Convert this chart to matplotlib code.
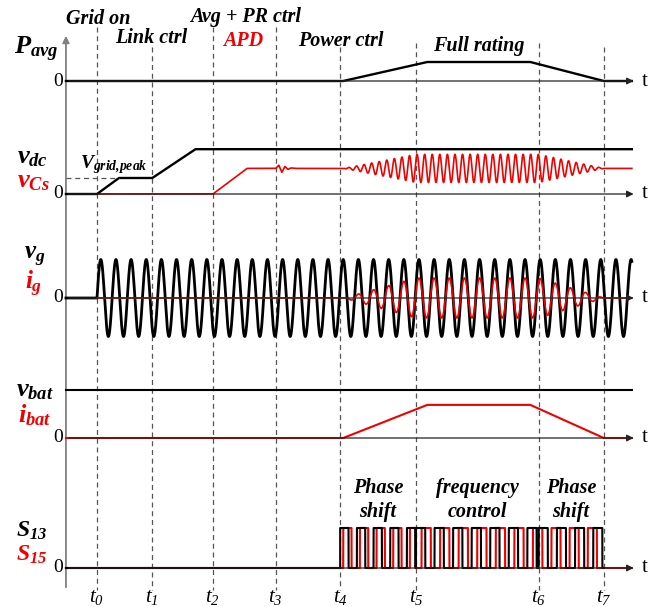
import matplotlib
matplotlib.use('Agg')
import matplotlib.pyplot as plt
import numpy as np

plt.rcParams['mathtext.fontset'] = 'custom'
plt.rcParams['mathtext.it'] = 'Liberation Serif:italic:bold'
plt.rcParams['mathtext.rm'] = 'Liberation Serif:italic:bold'
plt.rcParams['mathtext.sf'] = 'Liberation Serif:italic'

# time base (ms), grid period 20 ms
t_marks = [0, 73, 153, 236, 321, 421, 583, 669]
t_names = ['t_0', 't_1', 't_2', 't_3', 't_4', 't_5', 't_6', 't_7']
t_start, t_end = -41, 706
grid_period = 20.0

# average power (p.u.)
p_t = [t_start, 325, 436, 572, 669, t_end]
p_val = [0, 0, 1.0, 1.0, 0, 0]

# dc link / APD capacitor voltages (p.u. of grid peak)
vdc_t = [t_start, 0, 29, 73, 130, t_end]
vdc_val = [0, 0, 1.0, 1.0, 2.8, 2.8]
vcs_t = [0, 153, 198, t_end]
vcs_val = [0, 0, 1.6, 1.6]
vcs_bump_t = [236, 240, 244, 248, 252, 256, 262]
vcs_bump = [0, 0.2, -0.25, 0.12, -0.06, 0.03, 0]
vcs_ripple_amp = 0.88

# envelope of the power transfer (ig, vCs ripple)
env_t = [326, 421, 583, 669]
env_val = [0, 1, 1, 0]
ig_amp = 0.52

# battery
vbat = 1.0
ibat_t = [t_start, 325, 436, 572, 669, t_end]
ibat_val = [0, 0, 0.69, 0.69, 0, 0]

# switching: segments t4-t5, t5-t6, t6-t7
sw_bounds = [321, 421, 583, 669]
sw_period = [22.0, 24.5, 24.0]
sw_shift = [0.18, 0.3, -0.3]
sw_duty = 0.5

W, H = 663, 607
ms_per_px = 1.32
x0_px = 97
x_lo = -x0_px * ms_per_px
x_hi = (W - x0_px) * ms_per_px

RED = '#f00000'
fig = plt.figure(figsize=(W / 100, H / 100), dpi=100)

base = fig.add_axes([0, 0, 1, 1])
base.set_xlim(x_lo, x_hi)
base.set_ylim(H, 0)
base.axis('off')

dash_top = [27, 47, 27, 27, 47, 43, 43, 47]
base.vlines(t_marks, dash_top, 590, colors='#555555', lw=0.9, linestyles=(0, (4, 3)))
base.annotate('', xy=(t_start, 33), xytext=(t_start, 590),
              arrowprops=dict(arrowstyle='-|>', color='#808080', lw=1.3, mutation_scale=10))
for tm, nm in zip(t_marks, t_names):
    base.text(tm, 597, r'$\mathsf{' + nm + '}$', fontsize=15, ha='center', va='center')


def panel(top, bottom, zero, scale):
    ax = fig.add_axes([0, 1 - bottom / H, 1, (bottom - top) / H])
    ax.set_xlim(x_lo, x_hi)
    ax.set_ylim(-(bottom - zero) / scale, (zero - top) / scale)
    ax.axis('off')
    ax.annotate('', xy=(712, 0), xytext=(t_start, 0),
                arrowprops=dict(arrowstyle='-|>', color='#222222', lw=0.9, mutation_scale=10))
    ax.text(719, 0, 't', fontsize=15, family='Liberation Serif', va='center', ha='left')
    ax.text(t_start - 4, 0, '0', fontsize=14, family='Liberation Serif', va='center', ha='right')
    return ax


def ftext(x, y, s, size, color='k', **kw):
    fig.text(x / W, 1 - y / H, s, fontsize=size, color=color, family='Liberation Serif',
             weight='bold', style='italic', va='center', **kw)


# P_avg
ax1 = panel(33, 112, 81, 19)
ax1.plot(p_t, p_val, color='k', lw=1.7)

# v_dc, v_Cs
ax2 = panel(112, 215, 194, 16)
t = np.linspace(0, t_end, 8000)
env = np.interp(t, env_t, env_val)
vcs = np.interp(t, vcs_t, vcs_val) + np.interp(t, vcs_bump_t, vcs_bump, left=0, right=0)
vcs = vcs + vcs_ripple_amp * env * np.sin(2 * np.pi * t / (grid_period / 2))
ax2.plot(t, vcs, color=RED, lw=1.2)
ax2.plot(vdc_t, vdc_val, color='k', lw=1.7)
ax2.plot([t_start, 29], [1.0, 1.0], color='#555555', lw=0.9, ls=(0, (4, 3)))

# v_g, i_g
ax3 = panel(215, 350, 298, 38.5)
vg = np.sin(2 * np.pi * t / grid_period)
ig = ig_amp * env * vg
ax3.plot(np.r_[t_start, t], np.r_[0, vg], color='k', lw=2.0)
ax3.plot(t, ig, color=RED, lw=1.2)

# v_bat, i_bat
ax4 = panel(350, 465, 438, 48)
ax4.plot([t_start, t_end], [vbat, vbat], color='k', lw=1.5)
ax4.plot(ibat_t, ibat_val, color=RED, lw=1.5)

# S13, S15
ax5 = panel(465, 590, 568, 40)
ts = np.linspace(sw_bounds[0], sw_bounds[-1], 40000)
s13 = np.zeros_like(ts)
s15 = np.zeros_like(ts)
for k in range(3):
    m = (ts >= sw_bounds[k]) & (ts < sw_bounds[k + 1])
    ph = (ts[m] - sw_bounds[k]) / sw_period[k]
    s13[m] = (ph % 1.0) < sw_duty
    s15[m] = ((ph - sw_shift[k]) % 1.0) < sw_duty
s15[ts < sw_bounds[0] + sw_shift[0] * sw_period[0]] = 0
ax5.plot(np.r_[t_start, sw_bounds[0], ts, t_end], np.r_[0, 0, s15, 0], color=RED, lw=1.5)
ax5.plot(np.r_[t_start, sw_bounds[0], ts], np.r_[0, 0, s13], color='k', lw=1.5)

# labels
ftext(66, 19, 'Grid on', 14.5)
ftext(115, 38, 'Link ctrl', 14.5)
ftext(190, 17, 'Avg + PR ctrl', 14.5)
ftext(223, 41, 'APD', 14.5, RED)
ftext(298, 41, 'Power ctrl', 14.5)
ftext(433, 46, 'Full rating', 14.5)

ftext(14, 49, r'$P_{avg}$', 19)
ftext(17, 158, r'$v_{dc}$', 19)
ftext(17, 182, r'$v_{Cs}$', 19, RED)
ftext(80, 165, r'$V_{grid{,}peak}$', 14)
ftext(24, 257, r'$v_{g}$', 18)
ftext(25, 284, r'$i_{g}$', 18, RED)
ftext(16, 390, r'$v_{bat}$', 19)
ftext(18, 415, r'$i_{bat}$', 19, RED)
ftext(16, 531, r'$S_{13}$', 17)
ftext(16, 555, r'$S_{15}$', 17, RED)

ftext(378, 500, 'Phase\nshift', 14.5, ha='center', linespacing=1.3)
ftext(477, 500, 'frequency\ncontrol', 14.5, ha='center', linespacing=1.3)
ftext(571, 500, 'Phase\nshift', 14.5, ha='center', linespacing=1.3)

fig.savefig('out.png', dpi=100)
